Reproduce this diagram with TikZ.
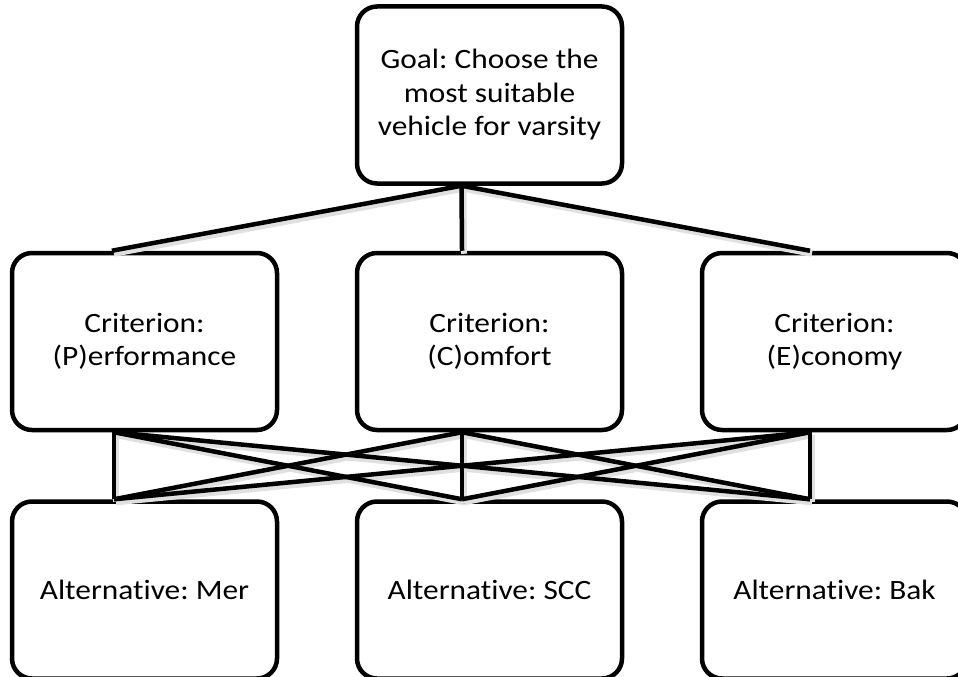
\documentclass[tikz,border=0pt]{standalone}
\usepackage{fontspec}
\setmainfont{Carlito}[FakeStretch=1.12, Ligatures=NoCommon]
\usetikzlibrary{calc}
\begin{document}
\frenchspacing
\begin{tikzpicture}[x=1pt,y=-1pt,
  box/.style={draw, line width=4.5pt, rounded corners=20pt, fill=white,
    minimum width=265pt, minimum height=177pt, inner sep=0pt, align=center,
    font=\fontsize{28}{33.5}\selectfont},
  link/.style={line width=4.5pt},
  linkshade/.style={line width=6pt, black!12, transform canvas={xshift=2pt,yshift=-3pt}}]
\clip (0,0) rectangle (958,677);

% hierarchy boxes
\node[box] (goal) at (489.5,95) {Goal: Choose the\\most suitable\\vehicle for varsity};
\node[box] (perf) at (144.5,341.5) {Criterion:\\(P)erformance};
\node[box] (comf) at (489.5,341.5) {Criterion:\\(C)omfort};
\node[box] (econ) at (834.5,341.5) {Criterion:\\(E)conomy};
\node[box] (mer) at (144.5,590) {Alternative: Mer};
\node[box] (scc) at (489.5,590) {Alternative: SCC};
\node[box] (bak) at (834.5,590) {Alternative: Bak};

% attachment points of the connectors
\coordinate (goal-s) at ($(goal.south west)!0.396!(goal.south east)$);
\coordinate (perf-n) at ($(perf.north west)!0.379!(perf.north east)$);
\coordinate (comf-n) at ($(comf.north west)!0.398!(comf.north east)$);
\coordinate (econ-n) at ($(econ.north west)!0.409!(econ.north east)$);
\coordinate (perf-s) at ($(perf.south west)!0.387!(perf.south east)$);
\coordinate (comf-s) at ($(comf.south west)!0.398!(comf.south east)$);
\coordinate (econ-s) at ($(econ.south west)!0.409!(econ.south east)$);
\coordinate (mer-n) at ($(mer.north west)!0.387!(mer.north east)$);
\coordinate (scc-n) at ($(scc.north west)!0.398!(scc.north east)$);
\coordinate (bak-n) at ($(bak.north west)!0.409!(bak.north east)$);

% soft shadows under the connectors
\foreach \c in {perf-n,comf-n,econ-n}
  \draw[linkshade] (goal-s) -- (\c);
\foreach \a in {perf-s,comf-s,econ-s}
  \foreach \b in {mer-n,scc-n,bak-n}
    \draw[linkshade] (\a) -- (\b);

% goal to criteria
\foreach \c in {perf-n,comf-n,econ-n}
  \draw[link] (goal-s) -- (\c);
% criteria to alternatives
\foreach \a in {perf-s,comf-s,econ-s}
  \foreach \b in {mer-n,scc-n,bak-n}
    \draw[link] (\a) -- (\b);
\end{tikzpicture}
\end{document}
